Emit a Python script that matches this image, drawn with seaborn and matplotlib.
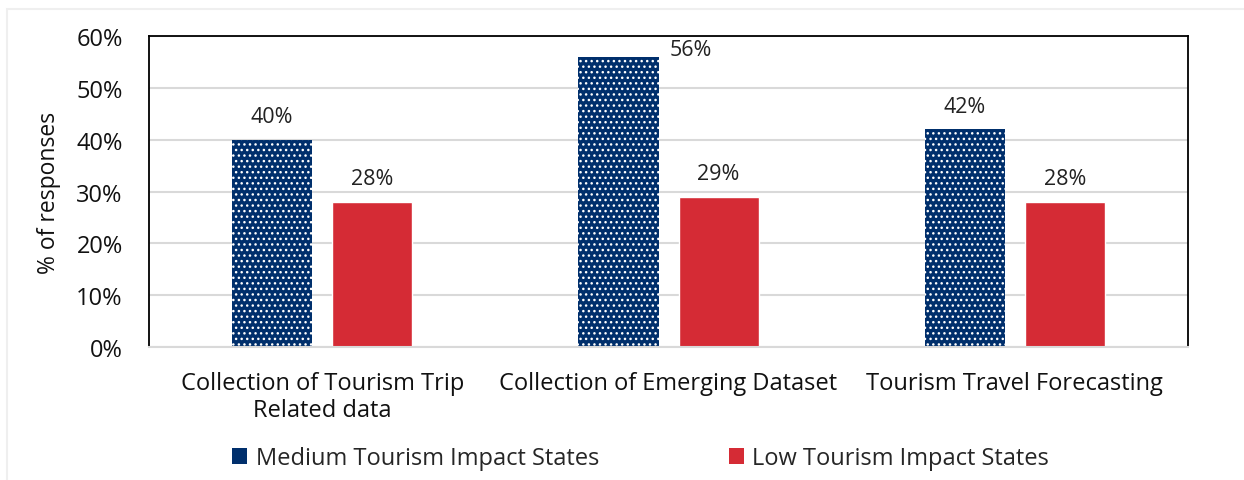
import matplotlib
matplotlib.use("Agg")
import matplotlib.pyplot as plt
import seaborn as sns
import pandas as pd
from matplotlib.patches import Rectangle, Patch

categories = ["Collection of Tourism Trip\nRelated data",
              "Collection of Emerging Dataset",
              "Tourism Travel Forecasting"]
series_names = ["Medium Tourism Impact States", "Low Tourism Impact States"]
medium_vals = [40, 56, 42]
low_vals = [28, 29, 28]
yticks = [0, 10, 20, 30, 40, 50, 60]

colors = {"Medium Tourism Impact States": "#002F6C",
          "Low Tourism Impact States": "#D52B35"}

df = pd.DataFrame({
    "category": categories * 2,
    "series": [series_names[0]] * 3 + [series_names[1]] * 3,
    "value": medium_vals + low_vals,
})

sns.set_theme(style="white")
plt.rcParams["font.family"] = ["Open Sans", "DejaVu Sans"]
plt.rcParams["hatch.linewidth"] = 1.0

fig = plt.figure(figsize=(12.44, 4.81), dpi=100)
ax = fig.add_axes([0.1198, 0.2765, 0.8352, 0.6465])

sns.barplot(data=df, x="category", y="value", hue="series",
            palette=colors, width=0.578, gap=0.2, ax=ax,
            legend=False, saturation=1)

# dotted fill for the medium series
for bar in ax.containers[0]:
    bar.set_hatch("...")
    bar.set_edgecolor("white")
    bar.set_linewidth(0)

label_kw = dict(fontsize=15.5, color="#222222", ha="center", va="bottom")
for cont in ax.containers:
    for bar in cont:
        v = bar.get_height()
        x = bar.get_x() + bar.get_width() / 2
        if v >= 55:
            # tall bar: label sits beside the top, clear of the frame
            ax.annotate(f"{v:g}%", (x, v), xytext=(52, -2),
                        textcoords="offset points", **label_kw)
        else:
            ax.annotate(f"{v:g}%", (x, v), xytext=(0, 9),
                        textcoords="offset points", **label_kw)

ax.set_ylim(0, 60)
ax.set_yticks(yticks)
ax.set_yticklabels([f"{t}%" for t in yticks], fontsize=17, color="#111111")
ax.set_xlim(-0.5, 2.5)
ax.tick_params(axis="x", labelsize=17, colors="#111111", pad=17, length=0)
ax.tick_params(axis="y", length=0, pad=19)
ax.set_xlabel("")
ax.set_ylabel("% of responses", fontsize=16.5, color="#111111", labelpad=11)
ax.yaxis.grid(True, color="#D9D9D9", linewidth=1.5)
ax.set_axisbelow(True)
for s in ["left", "top", "right"]:
    ax.spines[s].set_color("black")
    ax.spines[s].set_linewidth(1.3)
ax.spines["bottom"].set_color("#D9D9D9")
ax.spines["bottom"].set_linewidth(1.5)

handles = [Patch(facecolor=colors[n], edgecolor="none") for n in series_names]
fig.legend(handles, series_names, loc="center", bbox_to_anchor=(0.515, 0.045),
           ncol=2, frameon=False, fontsize=17, handlelength=0.65,
           handleheight=0.65, handletextpad=0.35, columnspacing=5.5)

fig.patches.append(Rectangle((0.006, -0.1), 1.2, 1.08, transform=fig.transFigure,
                             fill=False, edgecolor="#EFEFEF", linewidth=1.5))

fig.savefig("out.png", dpi=100)
